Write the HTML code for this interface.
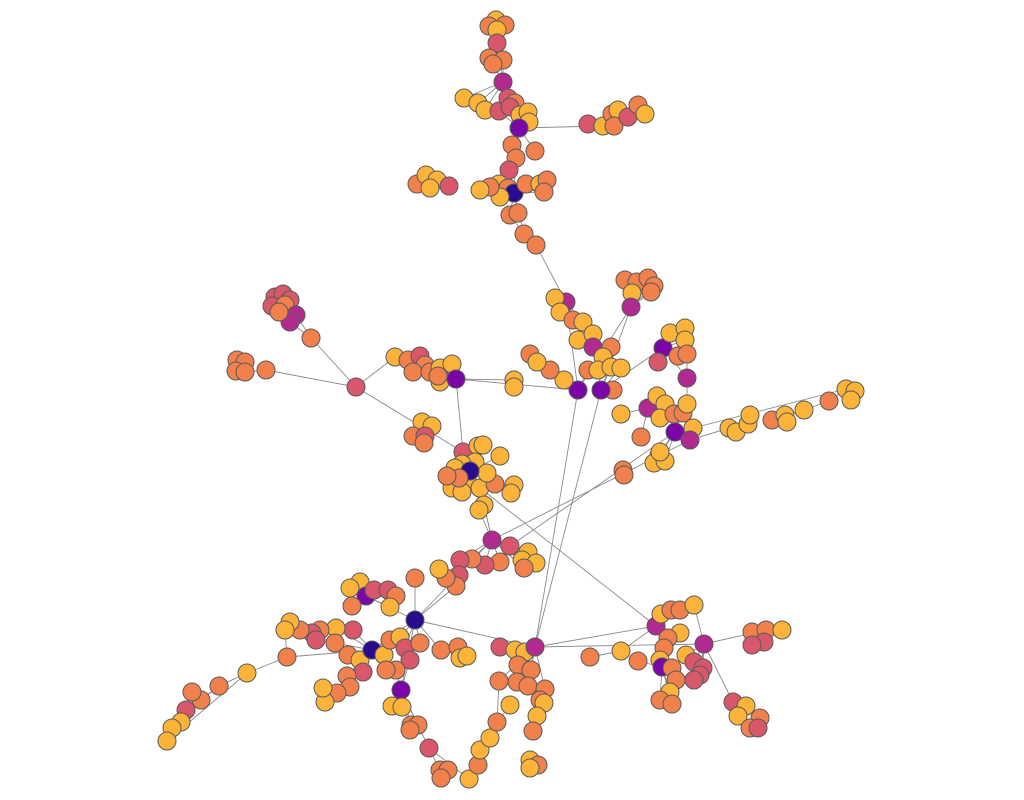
<!DOCTYPE html>
<html><head><meta charset="utf-8"><title>Network graph</title>
<style>html,body{margin:0;padding:0;background:#fff;width:1024px;height:800px;overflow:hidden}svg{display:block}</style>
</head><body>
<svg id="chart" width="1024" height="800">
<g id="edges"></g>
<g id="nodes"></g>
</svg>
<script>
// node data: [x, y, colorCategory]  (0 = darkest hub ... 5 = yellow leaf)
const nodeX = [];
const nodeY = [];
const nodeCat = [];
const rawNodes = [
[496,20,5],[489,26,4],[505,25,4],[497,30,5],[497,43,3],[489,58,4],[503,60,4],[493,64,4],[503,82,2],
[464,98,5],[478,103,5],[485,110,5],[499,111,3],[508,98,3],[515,103,4],[510,107,3],[520,115,5],[528,112,5],[529,122,5],[519,128,1],[512,145,4],[535,151,4],[516,158,4],[509,170,3],[499,184,5],[508,188,4],[514,193,0],[500,197,5],[490,187,4],[480,190,5],[526,184,4],[540,184,5],[547,180,4],[544,192,4],[510,215,4],[518,213,4],[524,234,4],[536,245,4],
[588,124,3],[603,126,5],[612,114,4],[618,110,5],[614,126,4],[628,117,3],[638,105,4],[645,114,5],
[417,184,4],[426,175,5],[437,180,5],[430,188,5],[449,186,3],
[566,302,2],[555,298,5],[560,312,5],[573,320,4],[583,322,5],[578,340,5],[593,334,5],[593,347,2],[611,347,4],[603,357,5],[588,370,4],[598,370,5],[611,367,5],[613,390,4],[621,368,5],[578,390,1],[601,390,1],[564,380,5],[550,370,4],[530,354,4],[537,362,5],[514,380,5],[514,387,5],
[625,280,4],[637,282,4],[648,278,4],[654,286,4],[632,293,5],[651,292,4],[631,307,2],
[663,348,1],[670,333,5],[685,328,5],[685,340,5],[678,356,4],[687,354,4],[658,362,3],[687,378,2],[648,408,2],[657,396,5],[665,404,5],[660,418,5],[674,414,4],[683,413,4],[687,404,5],[693,428,5],[675,432,1],[690,440,2],[641,437,4],[621,414,5],
[729,428,5],[736,432,5],[748,424,5],[750,415,5],[772,420,4],[785,415,5],[787,422,5],[804,410,5],[829,401,4],[846,389,5],[855,391,5],[851,400,5],
[659,455,5],[654,463,5],[665,461,5],[660,452,5],[623,470,4],[624,475,4],
[275,297,3],[283,294,3],[290,300,3],[272,306,3],[285,305,4],[296,315,2],[290,322,2],[279,312,4],[311,338,4],[237,360,4],[245,362,4],[236,371,4],[245,372,4],[266,370,4],[356,387,3],
[395,357,5],[408,360,4],[420,356,3],[425,365,4],[413,372,4],[430,372,4],[440,368,5],[452,364,5],[440,382,5],[438,376,4],[456,379,1],
[422,422,5],[432,426,5],[413,436,4],[425,436,3],[424,443,4],[463,452,3],[478,446,5],[483,445,5],[500,456,5],[475,462,5],[462,464,5],[455,468,5],[467,480,5],[452,488,5],[462,492,5],[480,488,5],[495,484,4],[514,485,5],[511,493,5],[487,473,5],[470,471,0],[484,505,5],[479,510,5],[459,478,4],[447,476,4],
[492,540,2],[510,546,3],[528,552,5],[522,560,5],[536,563,5],[524,568,4],[500,562,4],[485,565,3],[472,559,4],[460,560,3],[459,575,3],[456,586,4],[446,578,4],[439,569,5],[415,578,4],[415,620,0],
[360,582,5],[350,588,5],[366,596,1],[374,590,3],[388,590,3],[396,596,4],[390,607,5],[352,606,4],[353,630,3],[336,628,5],[320,630,4],[312,633,3],[300,630,4],[290,622,5],[285,630,5],[316,640,3],[335,643,4],[348,655,4],[360,660,5],[372,650,0],[384,655,5],[390,640,4],[400,637,5],[405,648,3],[410,660,3],[396,670,4],[386,670,4],[363,672,3],[347,676,4],[350,687,4],[337,693,4],[325,702,5],[323,688,5],[287,657,4],[247,673,5],[219,686,4],[201,700,4],[192,692,4],[186,710,3],[181,722,5],[172,728,5],[167,741,5],[401,690,1],[392,706,5],[402,707,5],[411,725,4],[418,725,4],[410,730,4],[429,748,3],[440,770,4],[448,770,4],[441,778,4],[469,779,5],[478,765,4],[480,750,5],[490,738,5],[497,722,4],[510,705,5],[499,681,4],[420,643,4],[441,650,4],[458,647,4],[460,658,5],[467,656,5],[500,647,3],[515,650,5],[525,652,5],[535,647,2],[518,665,4],[531,670,4],[517,682,4],[528,686,4],[545,689,4],[540,700,4],[544,703,5],[537,716,5],[533,731,4],[530,760,5],[538,765,4],[530,768,5],
[590,657,4],[621,651,5],[638,661,4],[656,626,2],[661,614,5],[671,610,4],[680,610,4],[694,605,5],[680,633,5],[668,638,4],[664,648,4],[660,660,5],[662,667,1],[672,668,4],[676,680,4],[670,692,5],[660,700,4],[672,704,4],[686,655,5],[694,662,3],[703,668,3],[700,675,3],[694,680,3],[704,644,2],[752,632,4],[766,630,4],[782,630,5],[764,642,3],[752,645,3],[733,702,3],[746,706,5],[738,716,5],[760,718,4],[750,728,4],[758,728,3]
];
rawNodes.forEach(n => { nodeX.push(n[0]); nodeY.push(n[1]); nodeCat.push(n[2]); });
// explicit long links between graph regions (endpoints snapped to nearest node)
const linkFrom = [[519,128],[519,128],[512,145],[516,158],[514,193],[510,215],[524,234],[536,245],[356,387],[356,387],[311,338],[356,387],[456,379],[456,379],[456,379],[578,390],[601,390],[578,390],[566,302],[415,620],[415,620],[415,620],[478,488],[690,440],[675,432],[536,647],[704,644],[704,644],[690,428],[287,657],[247,673],[401,690],[429,748],[469,779],[497,722],[499,681],[535,647],[601,390],[663,348],[631,307],[372,650],[415,620],[415,620],[492,540],[463,452],[219,686],[186,710],[729,428],[804,410],[829,401],[266,370],[247,673]];
const linkTo   = [[603,126],[512,145],[516,158],[514,193],[510,215],[524,234],[536,245],[566,302],[266,370],[311,338],[290,315],[463,452],[578,390],[463,452],[514,380],[536,647],[536,647],[631,307],[578,390],[492,540],[536,647],[366,596],[655,626],[492,540],[510,546],[704,644],[733,702],[766,630],[846,389],[372,650],[167,741],[429,748],[469,779],[497,722],[499,681],[535,647],[656,626],[663,348],[687,378],[601,390],[415,620],[401,690],[456,586],[484,505],[484,505],[247,673],[219,686],[690,440],[772,420],[804,410],[245,372],[287,657]];
const palette = ["#2a0a8f","#7a06a8","#b02a90","#d8576b","#f0804c","#fbb33a"];

const NS = "http://www.w3.org/2000/svg";
const eg = document.getElementById("edges");
const ng = document.getElementById("nodes");
const N = nodeX.length;
function nearest(px, py, filter){
  let best=-1, bd=1e12;
  for(let i=0;i<N;i++){ if(filter && !filter(i)) continue;
    const d=(nodeX[i]-px)**2+(nodeY[i]-py)**2; if(d<bd){bd=d;best=i;} }
  return best;
}
function dist(a,b){ return Math.hypot(nodeX[a]-nodeX[b], nodeY[a]-nodeY[b]); }
function addEdge(a,b){
  const l=document.createElementNS(NS,"line");
  l.setAttribute("x1",nodeX[a]);l.setAttribute("y1",nodeY[a]);
  l.setAttribute("x2",nodeX[b]);l.setAttribute("y2",nodeY[b]);
  l.setAttribute("stroke","#8a8a8a");l.setAttribute("stroke-width","0.9");
  
  
  eg.appendChild(l);
}
// local edges: join nearest hub if close, else nearest neighbour
for(let i=0;i<N;i++){
  if(nodeCat[i]<=2) continue;
  let h=nearest(nodeX[i],nodeY[i],j=>nodeCat[j]<=2 && j!==i);
  if(h<0 || dist(i,h)>45) h=nearest(nodeX[i],nodeY[i],j=>j!==i);
  if(h>=0) addEdge(i,h);
}
for(let k=0;k<linkFrom.length;k++){
  const a=nearest(linkFrom[k][0],linkFrom[k][1]);
  const b=nearest(linkTo[k][0],linkTo[k][1]);
  if(a!==b){ addEdge(a,b); }
}
for(let i=0;i<N;i++){
  const c=document.createElementNS(NS,"circle");
  c.setAttribute("cx",nodeX[i]);c.setAttribute("cy",nodeY[i]);c.setAttribute("r",9);
  c.setAttribute("fill",palette[nodeCat[i]]);
  c.setAttribute("stroke","#5a5a5a");c.setAttribute("stroke-width","1");
  
  
  ng.appendChild(c);
}
</script>
</body></html>
